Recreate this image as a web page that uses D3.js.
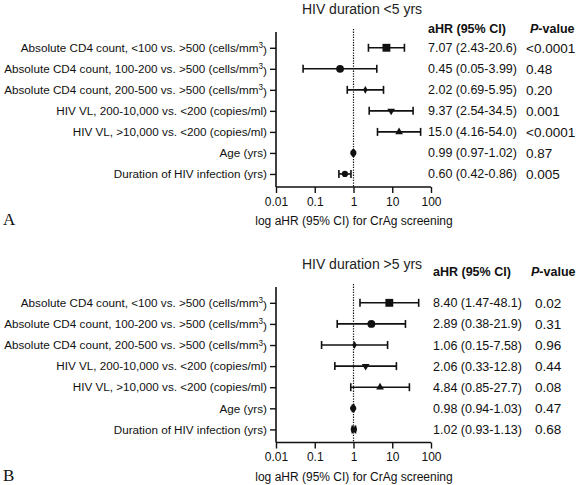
<!DOCTYPE html>
<html><head><meta charset="utf-8">
<script src="https://cdn.jsdelivr.net/npm/d3@7"></script>
<style>body{margin:0;background:#fff}svg{display:block}</style>
</head><body><svg id="c" width="578" height="485"></svg>
<script>
const categories = [
  "Absolute CD4 count, <100 vs. >500 (cells/mm^3)",
  "Absolute CD4 count, 100-200 vs. >500 (cells/mm^3)",
  "Absolute CD4 count, 200-500 vs. >500 (cells/mm^3)",
  "HIV VL, 200-10,000 vs. <200 (copies/ml)",
  "HIV VL, >10,000 vs. <200 (copies/ml)",
  "Age (yrs)",
  "Duration of HIV infection (yrs)"
];
const markerShapes = ["square", "circle", "diamond", "triangle-down", "triangle-up", "smallcircle", "smallcircle"];

const titleA = "HIV duration <5 yrs";
const hrA = [7.07, 0.45, 2.02, 9.37, 15.0, 0.99, 0.60];
const loA = [2.43, 0.05, 0.69, 2.54, 4.16, 0.97, 0.42];
const hiA = [20.6, 3.99, 5.95, 34.5, 54.0, 1.02, 0.86];
const hrTextA = ["7.07 (2.43-20.6)", "0.45 (0.05-3.99)", "2.02 (0.69-5.95)", "9.37 (2.54-34.5)", "15.0 (4.16-54.0)", "0.99 (0.97-1.02)", "0.60 (0.42-0.86)"];
const pA = ["<0.0001", "0.48", "0.20", "0.001", "<0.0001", "0.87", "0.005"];

const titleB = "HIV duration >5 yrs";
const hrB = [8.40, 2.89, 1.06, 2.06, 4.84, 0.98, 1.02];
const loB = [1.47, 0.38, 0.15, 0.33, 0.85, 0.94, 0.93];
const hiB = [48.1, 21.9, 7.58, 12.8, 27.7, 1.03, 1.13];
const hrTextB = ["8.40 (1.47-48.1)", "2.89 (0.38-21.9)", "1.06 (0.15-7.58)", "2.06 (0.33-12.8)", "4.84 (0.85-27.7)", "0.98 (0.94-1.03)", "1.02 (0.93-1.13)"];
const pB = ["0.02", "0.31", "0.96", "0.44", "0.08", "0.47", "0.68"];

const xTicks = [0.01, 0.1, 1, 10, 100];
const xTickLabels = ["0.01", "0.1", "1", "10", "100"];
const xAxisTitle = "log aHR (95% CI) for CrAg screening";
const colHeaderHR = "aHR (95% CI)";
const panelLetters = ["A", "B"];

const svg = d3.select("#c");
const FONT = "'Liberation Sans', Arial, Helvetica, sans-serif";

function symbolFor(shape) {
  const s = d3.symbol();
  switch (shape) {
    case "square": return s.type(d3.symbolSquare).size(62)();
    case "circle": return s.type(d3.symbolCircle).size(48)();
    case "diamond": return s.type(d3.symbolDiamond).size(18)();
    case "triangle-down": return s.type(d3.symbolTriangle).size(26)();
    case "triangle-up": return s.type(d3.symbolTriangle).size(26)();
    default: return s.type(d3.symbolCircle).size(30)();
  }
}

function drawPanel(cfg) {
  const g = svg.append("g");
  const x = d3.scaleLog().domain([0.01, 100]).range([276, 431]);
  const y = d3.scaleLinear().domain([0.25, 7.62]).range([cfg.axisTop, cfg.axisBottom]);
  const rows = d3.range(categories.length);

  g.append("text").attr("x", 362).attr("y", cfg.titleY).attr("text-anchor", "middle")
    .style("font-family", FONT).style("font-size", "14px").attr("fill", "#222").text(cfg.title);

  g.append("text").attr("x", cfg.hrX).attr("y", cfg.headerY)
    .style("font-family", FONT).style("font-size", "12.5px").style("font-weight", "bold").attr("fill", "#111")
    .text(colHeaderHR);
  const ph = g.append("text").attr("x", cfg.pHeadX).attr("y", cfg.headerY)
    .style("font-family", FONT).style("font-size", "12.5px").style("font-weight", "bold").attr("fill", "#111");
  ph.append("tspan").style("font-style", "italic").text("P");
  ph.append("tspan").text("-value");

  g.append("line").attr("x1", x(1)).attr("x2", x(1)).attr("y1", cfg.axisTop - 3).attr("y2", cfg.axisBottom)
    .attr("stroke", "#111").attr("stroke-width", 1.2).attr("stroke-dasharray", "1.3,1.3");

  const yAxis = d3.axisLeft(y).tickValues(rows.map(i => i + 1)).tickSize(6).tickFormat("");
  const ya = g.append("g").attr("transform", `translate(276,0)`).call(yAxis);
  ya.select(".domain").attr("d", `M0,${cfg.axisTop}V${cfg.axisBottom}`).attr("stroke", "#111").attr("stroke-width", 1.6);
  ya.selectAll(".tick line").attr("stroke", "#111").attr("stroke-width", 1.4);

  rows.forEach(i => {
    const t = g.append("text").attr("x", 267).attr("y", y(i + 1)).attr("dy", "0.36em")
      .attr("text-anchor", "end").style("font-family", FONT).style("font-size", "11.7px").attr("fill", "#111");
    const parts = categories[i].split("^");
    if (parts.length === 1) { t.text(parts[0]); }
    else {
      t.append("tspan").text(parts[0]);
      t.append("tspan").attr("dy", "-0.45em").style("font-size", "8.2px").text(parts[1].charAt(0));
      t.append("tspan").attr("dy", "0.45em").text(parts[1].slice(1));
    }
  });

  const xAxis = d3.axisBottom(x).tickValues(xTicks).tickSize(6).tickPadding(4)
    .tickFormat((d, i) => xTickLabels[i]);
  const xa = g.append("g").attr("transform", `translate(0,${cfg.axisBottom})`).call(xAxis);
  xa.select(".domain").attr("d", `M276,0H431`).attr("stroke", "#111").attr("stroke-width", 1.6);
  xa.selectAll(".tick line").attr("stroke", "#111").attr("stroke-width", 1.4);
  xa.selectAll(".tick text").style("font-family", FONT).style("font-size", "12px").attr("fill", "#111");

  g.append("text").attr("x", 354).attr("y", cfg.axisBottom + 38).attr("text-anchor", "middle")
    .style("font-family", FONT).style("font-size", "12px").attr("fill", "#111").text(xAxisTitle);

  const cap = 4;
  rows.forEach(i => {
    const yy = y(i + 1);
    g.append("line").attr("x1", x(cfg.lo[i])).attr("x2", x(cfg.hi[i])).attr("y1", yy).attr("y2", yy)
      .attr("stroke", "#111").attr("stroke-width", 1.6);
    [cfg.lo[i], cfg.hi[i]].forEach(v => {
      g.append("line").attr("x1", x(v)).attr("x2", x(v)).attr("y1", yy - cap).attr("y2", yy + cap)
        .attr("stroke", "#111").attr("stroke-width", 1.6);
    });
    const rot = markerShapes[i] === "triangle-down" ? " rotate(180)" : "";
    g.append("path").attr("d", symbolFor(markerShapes[i]))
      .attr("transform", `translate(${x(cfg.hr[i])},${yy})${rot}`).attr("fill", "#111");

    g.append("text").attr("x", cfg.hrX).attr("y", yy).attr("dy", "0.36em")
      .style("font-family", FONT).style("font-size", "12.5px").attr("fill", "#111").text(cfg.hrText[i]);
    g.append("text").attr("x", cfg.pX).attr("y", yy).attr("dy", "0.36em")
      .style("font-family", FONT).style("font-size", "13.5px").attr("fill", "#111").text(cfg.p[i]);
  });

  svg.append("text").attr("x", 3).attr("y", cfg.letterY)
    .style("font-family", "'Liberation Serif', 'Times New Roman', serif").style("font-size", "17px")
    .attr("fill", "#111").text(cfg.letter);
}

drawPanel({
  title: titleA, hr: hrA, lo: loA, hi: hiA, hrText: hrTextA, p: pA,
  axisTop: 32, axisBottom: 187, titleY: 13.5, headerY: 32.5,
  hrX: 428, pX: 526, pHeadX: 530, letterY: 225, letter: panelLetters[0]
});
drawPanel({
  title: titleB, hr: hrB, lo: loB, hi: hiB, hrText: hrTextB, p: pB,
  axisTop: 287, axisBottom: 442.5, titleY: 268.5, headerY: 276,
  hrX: 433, pX: 535, pHeadX: 531, letterY: 481, letter: panelLetters[1]
});
</script></body></html>
